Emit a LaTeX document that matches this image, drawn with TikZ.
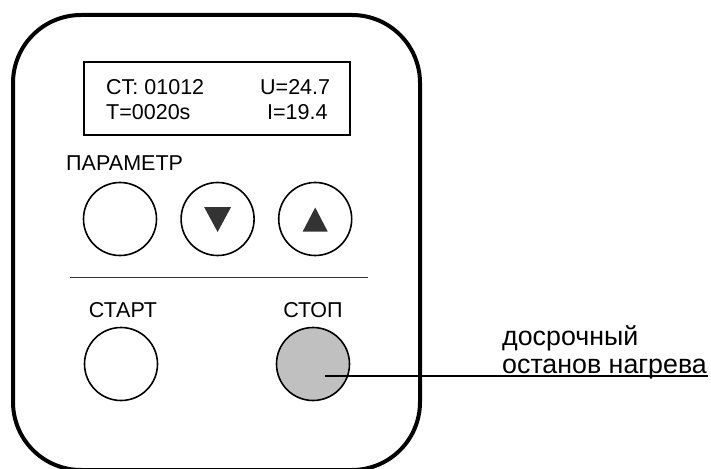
\documentclass[tikz,border=0pt]{standalone}
\usepackage{fontspec}
\setmainfont{Liberation Sans}
\usepackage{xcolor}
\usetikzlibrary{positioning,calc}
\definecolor{stopgray}{HTML}{C0C0C0}
\definecolor{triangle}{HTML}{333333}

\begin{document}
\begin{tikzpicture}[
  x=1pt, y=-1pt,
  every node/.style={font=\fontsize{21.5}{25}\selectfont, inner sep=0pt},
  panel/.style={draw=black, line width=4pt, rounded corners=68pt},
  lcd/.style={draw=black, line width=2pt},
  button/.style={circle, draw=black, line width=1.6pt, minimum size=73pt},
  arrowmark/.style={fill=triangle},
  note/.style={font=\fontsize{26.8}{28}\selectfont, anchor=base west},
]
\useasboundingbox (0,0) rectangle (711,468);

% Housing and display
\draw[panel] (13,15) rectangle (420,470);
\draw[lcd] (84,62) rectangle (350,135);
\node[anchor=base west] (ct) at (106,95) {CT: 01012};
\node[anchor=base west] (time) at (106,119) {T=0020s};
\node[anchor=base west] (volt) at (260,95) {U=24.7};
\node[anchor=base west] (amp) at (267,119) {I=19.4};

% Parameter row
\node[anchor=base west] (parlabel) at (66,170) {ПАРАМЕТР};
\node[button] (par) at (120,219) {};
\node[button, right=23pt of par] (dn) {};
\node[button, right=23pt of dn] (up) {};
\fill[arrowmark] ($(dn)+(-13.5,-12)$) -- ($(dn)+(13.5,-12)$) -- ($(dn)+(0,13)$) -- cycle;
\fill[arrowmark] ($(up)+(-12.5,12.5)$) -- ($(up)+(12.5,12.5)$) -- ($(up)+(0,-11.5)$) -- cycle;

% Separator
\draw[line width=0.9pt, black!80] (70,277) -- (368,277);

% Start / stop
\node[anchor=base] (startlabel) at (123,317) {СТАРТ};
\node[anchor=base] (stoplabel) at (313,317) {СТОП};
\node[button] (start) at (121,364) {};
\node[button, fill=stopgray] (stop) at (313,364) {};

% Annotation
\coordinate (lead) at ($(stop)+(12,12)$);
\coordinate (leadend) at (708,376);
\draw[line width=1.2pt] (lead) -- (leadend);
\node[note] (early) at (502,345) {досрочный};
\node[note] (heat) at (502,373) {останов нагрева};
\end{tikzpicture}
\end{document}
